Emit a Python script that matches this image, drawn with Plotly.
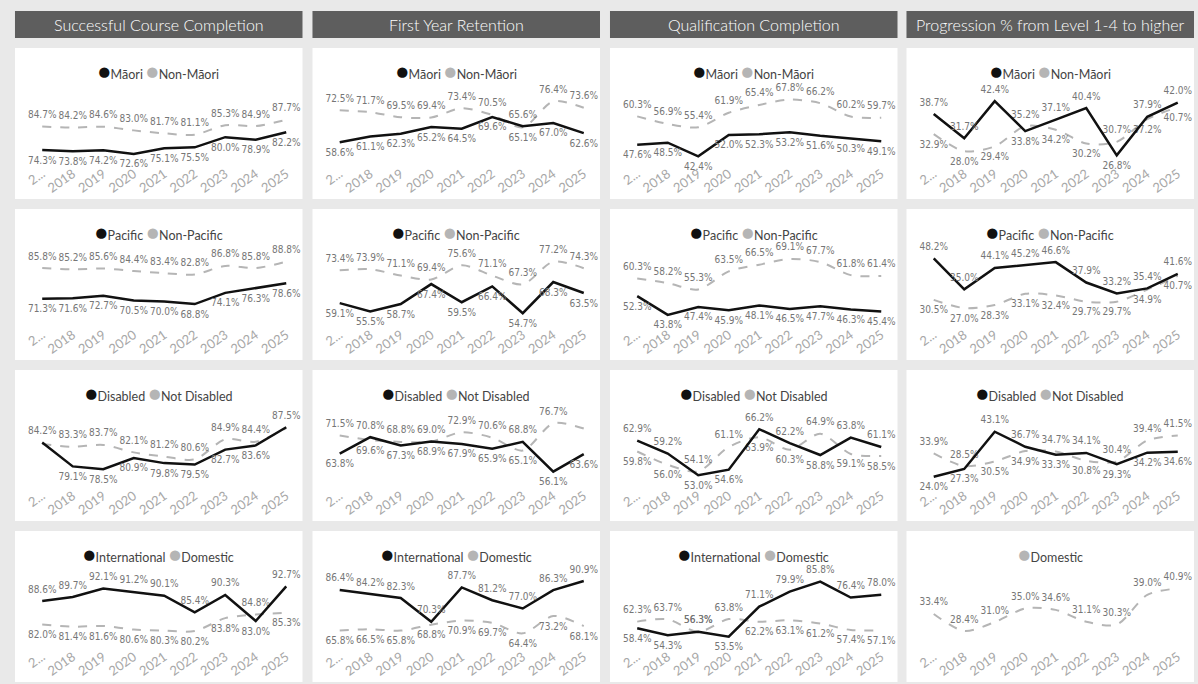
import plotly.graph_objects as go

W, H = 1198, 684

YEARS = ["2017", "2018", "2019", "2020", "2021", "2022", "2023", "2024", "2025"]
TICK_LABELS = ["2...", "2018", "2019", "2020", "2021", "2022", "2023", "2024", "2025"]

METRICS = ["Successful Course Completion", "First Year Retention",
           "Qualification Completion", "Progression % from Level 1-4 to higher"]
GROUP_LABELS = [["Māori", "Non-Māori"], ["Pacific", "Non-Pacific"],
                ["Disabled", "Not Disabled"], ["International", "Domestic"]]

# ---- Row 1: Māori / Non-Māori ----
maori_scc = [74.3, 73.8, 74.2, 72.6, 75.1, 75.5, 80.0, 78.9, 82.2]
nonmaori_scc = [84.7, 84.2, 84.6, 83.0, 81.7, 81.1, 85.3, 84.9, 87.7]
maori_fyr = [58.6, 61.1, 62.3, 65.2, 64.5, 69.6, 65.6, 67.0, 62.6]
nonmaori_fyr = [72.5, 71.7, 69.5, 69.4, 73.4, 70.5, 65.1, 76.4, 73.6]
maori_qc = [47.6, 48.5, 42.4, 52.0, 52.3, 53.2, 51.6, 50.3, 49.1]
nonmaori_qc = [60.3, 56.9, 55.4, 61.9, 65.4, 67.8, 66.2, 60.2, 59.7]
maori_prog = [38.7, 31.7, 42.4, 33.8, 37.1, 40.4, 26.8, 37.9, 42.0]
nonmaori_prog = [32.9, 28.0, 29.4, 35.2, 34.2, 30.2, 30.7, 37.2, 40.7]

# ---- Row 2: Pacific / Non-Pacific ----
pacific_scc = [71.3, 71.6, 72.7, 70.5, 70.0, 68.8, 74.1, 76.3, 78.6]
nonpacific_scc = [85.8, 85.2, 85.6, 84.4, 83.4, 82.8, 86.8, 85.8, 88.8]
pacific_fyr = [59.1, 55.5, 58.7, 67.4, 59.5, 66.4, 54.7, 68.3, 63.5]
nonpacific_fyr = [73.4, 73.9, 71.1, 69.4, 75.6, 71.1, 67.3, 77.2, 74.3]
pacific_qc = [52.3, 43.8, 47.4, 45.9, 48.1, 46.5, 47.7, 46.3, 45.4]
nonpacific_qc = [60.3, 58.2, 55.3, 63.5, 66.5, 69.1, 67.7, 61.8, 61.4]
pacific_prog = [48.2, 35.0, 44.1, 45.2, 46.6, 37.9, 33.2, 35.4, 41.6]
nonpacific_prog = [30.5, 27.0, 28.3, 33.1, 32.4, 29.7, 29.7, 34.9, 40.7]

# ---- Row 3: Disabled / Not Disabled ----
disabled_scc = [84.2, 79.1, 78.5, 80.9, 79.8, 79.5, 82.7, 83.6, 87.5]
notdisabled_scc = [83.9, 83.3, 83.7, 82.1, 81.2, 80.6, 84.9, 84.4, 87.3]
disabled_fyr = [63.8, 70.8, 67.3, 69.0, 67.9, 65.9, 68.8, 56.1, 63.6]
notdisabled_fyr = [71.5, 69.6, 68.8, 68.9, 72.9, 70.6, 65.1, 76.7, 74.5]
disabled_qc = [62.9, 59.2, 53.0, 54.6, 66.2, 62.2, 58.8, 63.8, 61.1]
notdisabled_qc = [59.8, 56.0, 54.1, 61.1, 63.9, 60.3, 64.9, 59.1, 58.5]
disabled_prog = [24.0, 27.3, 43.1, 36.7, 33.3, 34.1, 29.3, 34.2, 34.6]
notdisabled_prog = [33.9, 28.5, 30.5, 34.9, 34.7, 30.8, 30.4, 39.4, 41.5]

# ---- Row 4: International / Domestic ----
intl_scc = [88.6, 89.7, 92.1, 91.2, 90.1, 85.4, 90.3, 83.0, 92.7]
domestic_scc = [82.0, 81.4, 81.6, 80.6, 80.3, 80.2, 83.8, 84.8, 85.3]
intl_fyr = [86.4, 84.2, 82.3, 70.3, 87.7, 81.2, 77.0, 86.3, 90.9]
domestic_fyr = [65.8, 66.5, 65.8, 68.8, 70.9, 69.7, 64.4, 73.2, 68.1]
intl_qc = [58.4, 54.3, 56.3, 53.5, 71.1, 79.9, 85.8, 76.4, 78.0]
domestic_qc = [62.3, 63.7, 56.3, 63.8, 62.2, 63.1, 61.2, 57.4, 57.1]
domestic_prog = [33.4, 28.4, 31.0, 35.0, 34.6, 31.1, 30.3, 39.0, 40.9]

DATA = [
    [(maori_scc, nonmaori_scc), (maori_fyr, nonmaori_fyr), (maori_qc, nonmaori_qc), (maori_prog, nonmaori_prog)],
    [(pacific_scc, nonpacific_scc), (pacific_fyr, nonpacific_fyr), (pacific_qc, nonpacific_qc), (pacific_prog, nonpacific_prog)],
    [(disabled_scc, notdisabled_scc), (disabled_fyr, notdisabled_fyr), (disabled_qc, notdisabled_qc), (disabled_prog, notdisabled_prog)],
    [(intl_scc, domestic_scc), (intl_fyr, domestic_fyr), (intl_qc, domestic_qc), (None, domestic_prog)],
]

# labels that the original hides because of overlap: (row, col, series, index)
HIDDEN_LABELS = {(2, 0, 1, 0), (2, 0, 1, 8), (2, 1, 1, 8)}

# ---- layout (pixels) ----
Y_RANGES = [
    [[68.6, 101.7], [49.6, 82.2], [39.4, 73.0], [24.6, 46.2]],
    [[59.4, 94.8], [50.0, 82.7], [39.7, 73.6], [20.2, 52.2]],
    [[75.1, 91.2], [50.4, 82.4], [50.2, 71.7], [20.5, 52.3]],
    [[76.0, 97.0], [58.0, 96.0], [48.0, 92.0], [24.0, 46.0]],
]
CARD_X = [13, 311, 609, 906]
CARD_W = 288
CARD_Y = [48, 209, 370, 531]
CARD_H = 151
HEAD_Y0, HEAD_Y1 = 11, 38

BG = "#e9e9e9"
HEAD_BG = "#5e5e5e"
BLACK = "#111111"
GREY = "#b5b5b5"
LABEL_C = "#767676"
UI_FONT = "Segoe UI, Lato, Open Sans, sans-serif"
LBL_FONT = "DejaVu Sans Condensed, DejaVu Sans, sans-serif"


def px(x):
    return x / W


def py(y):
    return 1 - y / H


fig = go.Figure()
shapes = []
annotations = []
layout_axes = {}

for c, title in enumerate(METRICS):
    x0 = CARD_X[c]
    shapes.append(dict(type="rect", xref="paper", yref="paper", x0=px(x0), x1=px(x0 + CARD_W),
                       y0=py(HEAD_Y1), y1=py(HEAD_Y0), fillcolor=HEAD_BG, line=dict(width=0), layer="below"))
    annotations.append(dict(text=title, xref="paper", yref="paper", x=px(x0 + CARD_W / 2),
                            y=py((HEAD_Y0 + HEAD_Y1) / 2), showarrow=False, xanchor="center", yanchor="middle",
                            font=dict(family=UI_FONT, size=16, color="white", weight=300)))

for r in range(4):
    for c in range(4):
        k = r * 4 + c + 1
        x0, y0 = CARD_X[c], CARD_Y[r]
        shapes.append(dict(type="rect", xref="paper", yref="paper", x0=px(x0), x1=px(x0 + CARD_W),
                           y0=py(y0 + CARD_H), y1=py(y0), fillcolor="white", line=dict(width=0), layer="below"))
        xa = "xaxis" if k == 1 else f"xaxis{k}"
        ya = "yaxis" if k == 1 else f"yaxis{k}"
        xr = "x" if k == 1 else f"x{k}"
        yr = "y" if k == 1 else f"y{k}"
        layout_axes[xa] = dict(domain=[px(x0 + 12), px(x0 + 287)], anchor=yr, type="category",
                               range=[-0.5, 8.5], showgrid=False, zeroline=False, showline=False,
                               tickmode="array", tickvals=YEARS, ticktext=TICK_LABELS, tickangle=-35,
                               ticks="", tickfont=dict(family=UI_FONT, size=13, color="#a8a8a8"),
                               fixedrange=True)
        layout_axes[ya] = dict(domain=[py(y0 + 115), py(y0 + 40)], anchor=xr, range=Y_RANGES[r][c],
                               visible=False, fixedrange=True)

        prim, sec = DATA[r][c]
        names = GROUP_LABELS[r]
        series = [(sec, 1), (prim, 0)]
        for vals, si in series:
            if vals is None:
                continue
            other = prim if si == 1 else sec
            pos = []
            for i, v in enumerate(vals):
                if other is None:
                    pos.append("top center")
                else:
                    pos.append("top center" if v >= other[i] else "bottom center")
            texts = ["" if (r, c, si, i) in HIDDEN_LABELS else f"{v:.1f}%" for i, v in enumerate(vals)]
            if si == 0:
                line = dict(color=BLACK, width=2.5)
            else:
                line = dict(color=GREY, width=2, dash="dash", shape="spline", smoothing=0.8)
            fig.add_trace(go.Scatter(x=YEARS, y=vals, xaxis=xr, yaxis=yr, mode="lines+markers+text",
                                     line=line, marker=dict(size=8, opacity=0),
                                     text=texts, textposition=pos,
                                     textfont=dict(family=LBL_FONT, size=10, color=LABEL_C),
                                     cliponaxis=False, showlegend=False, hoverinfo="skip"))
        # legend
        if prim is not None:
            leg = (f'<span style="color:{BLACK};font-size:21px">●</span>{names[0]} '
                   f'<span style="color:{GREY};font-size:21px">●</span>{names[1]}')
        else:
            leg = f'<span style="color:{GREY};font-size:21px">●</span>{names[1]}'
        annotations.append(dict(text=leg, xref="paper", yref="paper", x=px(x0 + CARD_W / 2),
                                y=py(y0 + 22), showarrow=False, xanchor="center", yanchor="middle",
                                font=dict(family=UI_FONT, size=12.5, color="#444444")))

fig.update_layout(width=W, height=H, margin=dict(l=0, r=0, t=0, b=0), paper_bgcolor=BG,
                  plot_bgcolor="rgba(0,0,0,0)", shapes=shapes, annotations=annotations,
                  showlegend=False, **layout_axes)

fig.write_html("out.html", config={"displayModeBar": False})
